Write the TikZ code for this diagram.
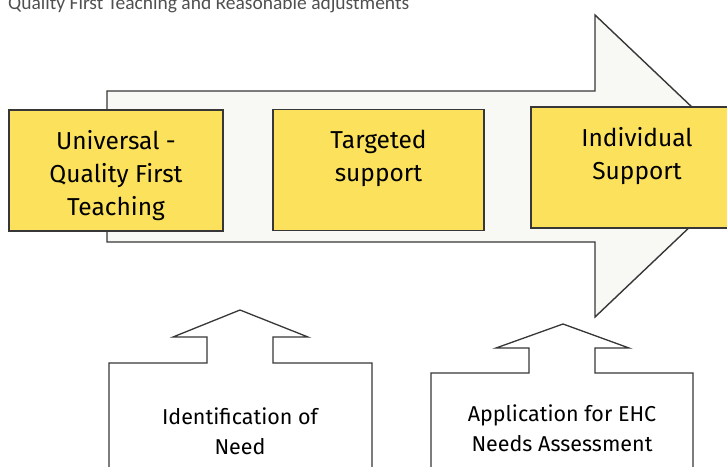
\documentclass[tikz,border=0pt]{standalone}
\usepackage{fontspec}
\setmainfont{Fira Sans}
\newfontfamily\titlefont{Carlito}
\usetikzlibrary{positioning}
\definecolor{stageyellow}{RGB}{252,226,92}
\definecolor{arrowgray}{RGB}{248,248,245}
\definecolor{linegray}{RGB}{55,55,55}
\definecolor{titlegray}{RGB}{80,80,80}

\begin{document}
\begin{tikzpicture}[x=1pt, y=-1pt]
	\tikzset{stage/.style={draw=linegray, line width=1.4pt, fill=stageyellow, rectangle, minimum width=212pt, minimum height=121pt}}
	\tikzset{stagetext/.style={inner sep=0pt, align=center, font=\fontsize{24.5}{33}\selectfont}}
	\tikzset{entry/.style={draw=linegray, line width=1.3pt, fill=white, line join=miter}}
	\tikzset{entrytext/.style={inner sep=0pt, align=center, font=\fontsize{21.5}{30}\selectfont}}
	\clip (0,0) rectangle (727,466);
	
	\node(title) at (8,9) [anchor=base west, inner sep=0pt, text=titlegray, font=\titlefont\fontsize{19.5}{22}\selectfont] {Quality First Teaching and Reasonable adjustments};
	
	% the long arrow behind the three stages
	\draw[draw=linegray, line width=1.4pt, fill=arrowgray] (107,91) -- (595,91) -- (595,15) -- (754,166) -- (595,317) -- (595,242) -- (107,242) -- cycle;
	
	\node(universal) at (116,170.5) [stage, minimum width=214pt] {};
	\node(targeted) at (378.5,170) [stage, minimum width=211pt] {};
	\node(individual) at (637,167.5) [stage] {};
	\node[stagetext, below=21pt of universal.north] {Universal -\\Quality First\\Teaching};
	\node[stagetext, below=21pt of targeted.north] {Targeted\\support};
	\node[stagetext, below=21pt of individual.north] {Individual\\Support};
	
	% entry points pushing up into the arrow
	\draw[entry] (109,480) -- (109,363) -- (207,363) -- (207,337) -- (173,337) -- (240,310) -- (308,337) -- (273,337) -- (273,363) -- (372,363) -- (372,480);
	\draw[entry] (431,480) -- (431,373) -- (529,373) -- (529,348) -- (496,348) -- (563,324) -- (629,348) -- (595,348) -- (595,373) -- (693,373) -- (693,480);
	\node(need) at (240,431) [entrytext] {Identification of\\Need};
	\node(ehc) at (562,428) [entrytext] {Application for EHC\\Needs Assessment};
\end{tikzpicture}
\end{document}
